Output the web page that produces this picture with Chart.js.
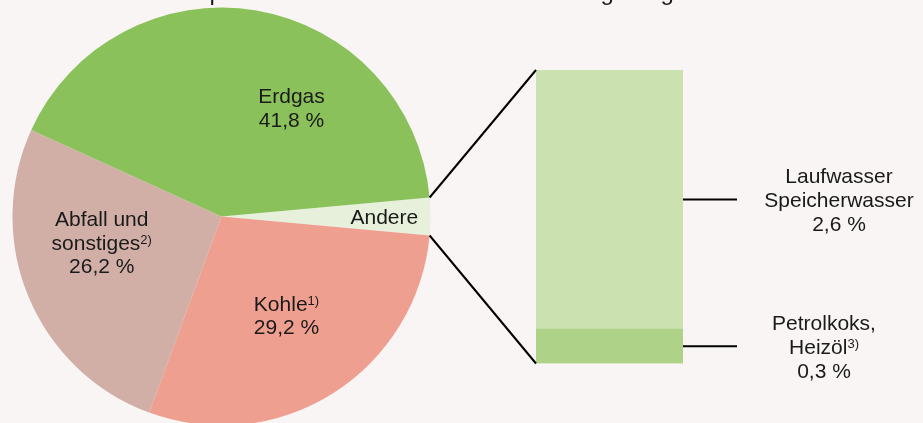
<!DOCTYPE html>
<html>
<head>
<meta charset="utf-8">
<script src="https://cdn.jsdelivr.net/npm/chart.js@4.4.1/dist/chart.umd.min.js"></script>
<style>
  html, body { margin: 0; padding: 0; background: #f8f5f4; overflow: hidden; width: 923px; height: 423px; }
  #wrap { position: relative; width: 923px; height: 423px; overflow: hidden; }
  #wrap canvas { position: absolute; left: 0; top: 0; }
</style>
</head>
<body>
<div id="wrap">
  <canvas id="pieCanvas" width="923" height="440"></canvas>
  <canvas id="barCanvas" width="923" height="440"></canvas>
</div>
<script>
// ---------------- data ----------------
const titleText = 'Stromproduktion der Kraftwerke nach Energieträgern';

// detail bar ("Andere" broken down), bottom segment first
const detailLabels = ['Petrolkoks,|Heizöl^3)', 'Laufwasser|Speicherwasser'];
const detailShares = [0.34, 2.56];

// main pie, clockwise starting with "Andere"
const pieLabels = ['Andere', 'Kohle^1)', 'Abfall und|sonstiges^2)', 'Erdgas'];
const pieMainShares = [29.2, 26.2, 41.8];   // Kohle, Abfall, Erdgas
const andereShare = detailShares.reduce((a, b) => a + b, 0);
const pieShares = [andereShare].concat(pieMainShares);

// ---------------- styles ----------------
const pieColors = ['#e6f0da', '#ef9f8f', '#d1afa7', '#8bc15a'];
const detailColors = ['#aed287', '#cce1b0'];
const textColor = '#1a1a1a';
const FONT = '"Liberation Sans", Arial, sans-serif';
const FS = 21, SUP_FS = 13, SUP_RAISE = 6;

function fmt(v) { return v.toFixed(1).replace('.', ',') + ' %'; }

// parse 'a|b^sup' into lines of segments
function parseLines(label, showPct, value) {
  const lines = label.split('|').map(l => {
    const p = l.split('^');
    return { main: p[0], sup: p[1] || '' };
  });
  if (showPct) lines.push({ main: fmt(value), sup: '' });
  return lines;
}

function drawBlock(ctx, lines, x, yMid, align, lh) {
  ctx.save();
  ctx.fillStyle = textColor;
  ctx.textBaseline = 'alphabetic';
  ctx.textAlign = 'left';
  const capH = FS * 0.716;
  const n = lines.length;
  lines.forEach((ln, i) => {
    ctx.font = FS + 'px ' + FONT;
    const wMain = ctx.measureText(ln.main).width;
    ctx.font = SUP_FS + 'px ' + FONT;
    const wSup = ln.sup ? ctx.measureText(ln.sup).width : 0;
    const w = wMain + wSup;
    let x0 = x;
    if (align === 'center') x0 = x - w / 2;
    else if (align === 'right') x0 = x - w;
    const by = yMid + (i - (n - 1) / 2) * lh + capH / 2;
    ctx.font = FS + 'px ' + FONT;
    ctx.fillText(ln.main, x0, by);
    if (ln.sup) {
      ctx.font = SUP_FS + 'px ' + FONT;
      ctx.fillText(ln.sup, x0 + wMain, by - SUP_RAISE);
    }
  });
  ctx.restore();
}

// label anchors relative to pie centre, in fractions of the radius (style)
const pieLabelPos = [
  { fx: 0.941, fy: 0.0, align: 'right' },   // Andere
  { fx: 0.311, fy: 0.472, align: 'center' }, // Kohle
  { fx: -0.573, fy: 0.123, align: 'center' },// Abfall
  { fx: 0.335, fy: -0.522, align: 'center' } // Erdgas
];

const pieLabelPlugin = {
  id: 'pieLabels',
  afterDraw(chart) {
    const ctx = chart.ctx;
    const meta = chart.getDatasetMeta(0);
    const arc0 = meta.data[0];
    const cx = arc0.x, cy = arc0.y, r = arc0.outerRadius;
    meta.data.forEach((arc, i) => {
      const pos = pieLabelPos[i];
      const lines = parseLines(pieLabels[i], i !== 0, pieShares[i]);
      drawBlock(ctx, lines, cx + pos.fx * r, cy + pos.fy * r, pos.align, 23.5);
    });
    // title (only its descenders reach into the picture)
    ctx.save();
    ctx.font = '24px ' + FONT;
    ctx.fillStyle = textColor;
    ctx.textBaseline = 'alphabetic';
    ctx.textAlign = 'left';
    const pre = ctx.measureText('Strom').width;
    ctx.fillText(titleText, cx - 12 - pre, -0.5);
    ctx.restore();
  }
};

const pieChart = new Chart(document.getElementById('pieCanvas'), {
  type: 'pie',
  data: {
    labels: pieLabels,
    datasets: [{
      data: pieShares,
      backgroundColor: pieColors,
      borderWidth: 0,
      hoverOffset: 0
    }]
  },
  options: {
    responsive: false,
    animation: false,
    events: [],
    rotation: 90 - (andereShare / pieShares.reduce((a, b) => a + b, 0)) * 180,
    layout: { padding: { left: 12.5, top: 7.5, right: 923 - 430.5, bottom: 440 - 425.5 } },
    plugins: { legend: { display: false }, tooltip: { enabled: false } }
  },
  plugins: [pieLabelPlugin]
});

const detailPlugin = {
  id: 'detailLinks',
  afterDraw(chart) {
    const ctx = chart.ctx;
    const arc = pieChart.getDatasetMeta(0).data[0];
    const bars = chart.data.datasets.map((d, i) => chart.getDatasetMeta(i).data[0]);
    const bottom = bars[0], top = bars[bars.length - 1];
    const left = top.x - top.width / 2, right = top.x + top.width / 2;
    ctx.save();
    ctx.strokeStyle = '#000';
    ctx.lineWidth = 2;
    // connectors from "Andere" slice to the bar
    const p1 = { x: arc.x + arc.outerRadius * Math.cos(arc.startAngle), y: arc.y + arc.outerRadius * Math.sin(arc.startAngle) };
    const p2 = { x: arc.x + arc.outerRadius * Math.cos(arc.endAngle), y: arc.y + arc.outerRadius * Math.sin(arc.endAngle) };
    ctx.beginPath();
    ctx.moveTo(p1.x, p1.y); ctx.lineTo(left, top.y);
    ctx.moveTo(p2.x, p2.y); ctx.lineTo(left, bottom.base);
    ctx.stroke();
    // leader lines + labels
    const labelDx = [141, 156];
    bars.forEach((b, i) => {
      const ym = (b.y + b.base) / 2;
      ctx.beginPath();
      ctx.moveTo(right, ym); ctx.lineTo(right + 54, ym);
      ctx.stroke();
      const lines = parseLines(detailLabels[i], true, detailShares[i]);
      drawBlock(ctx, lines, right + labelDx[i], ym, 'center', 24);
    });
    ctx.restore();
  }
};

const barChart = new Chart(document.getElementById('barCanvas'), {
  type: 'bar',
  data: {
    labels: ['Andere'],
    datasets: detailShares.map((v, i) => ({
      label: detailLabels[i],
      data: [v],
      backgroundColor: detailColors[i],
      borderWidth: 0,
      barPercentage: 1,
      categoryPercentage: 1
    }))
  },
  options: {
    responsive: false,
    animation: false,
    events: [],
    layout: { padding: { left: 536, right: 923 - 683, top: 70, bottom: 440 - 363.5 } },
    scales: {
      x: { display: false, stacked: true },
      y: { display: false, stacked: true, min: 0, max: andereShare }
    },
    plugins: { legend: { display: false }, tooltip: { enabled: false } }
  },
  plugins: [detailPlugin]
});
</script>
</body>
</html>
